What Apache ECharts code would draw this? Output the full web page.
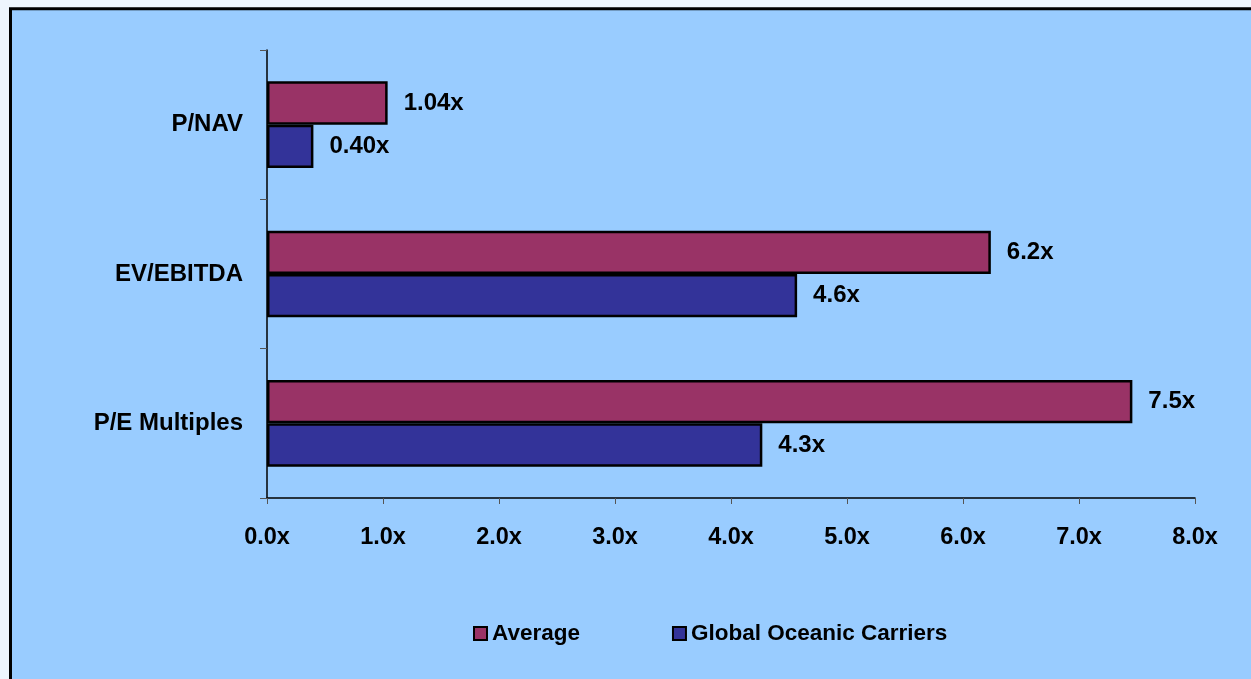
<!DOCTYPE html>
<html>
<head>
<meta charset="utf-8">
<script src="https://cdn.jsdelivr.net/npm/echarts@6/dist/echarts.min.js"></script>
<style>
html,body{margin:0;padding:0;background:#EEF5FD;}
#chart{width:1251px;height:679px;}
</style>
</head>
<body>
<div id="chart"></div>
<script>
const categories = ["P/NAV", "EV/EBITDA", "P/E Multiples"];
const averageValues = [1.04, 6.24, 7.46];
const carrierValues = [0.40, 4.57, 4.27];
const seriesNames = ["Average", "Global Oceanic Carriers"];
const labelDecimals = [2, 1, 1];
const xTicks = [0, 1, 2, 3, 4, 5, 6, 7, 8];

const chart = echarts.init(document.getElementById('chart'), null, {renderer: 'canvas'});
const font = 'Liberation Sans, Arial, sans-serif';
const labelCfg = {
  show: true, position: 'right', distance: 16,
  color: '#000', fontFamily: font, fontWeight: 'bold', fontSize: 24,
  formatter: p => p.value.toFixed(labelDecimals[p.dataIndex]) + 'x'
};
chart.setOption({
  animation: false,
  backgroundColor: '#EEF5FD',
  graphic: [{
    type: 'rect', z: -10, silent: true,
    shape: {x: 10.5, y: 8.8, width: 1400, height: 800},
    style: {fill: '#99CCFF', stroke: '#000', lineWidth: 3}
  }],
  grid: {left: 267, top: 50, width: 928, height: 448, containLabel: false},
  legend: {
    left: 468, top: 617, itemWidth: 13, itemHeight: 13, itemGap: 92, icon: 'rect',
    data: seriesNames,
    textStyle: {color: '#000', fontFamily: font, fontWeight: 'bold', fontSize: 22.5},
    itemStyle: {borderColor: '#000', borderWidth: 2}
  },
  xAxis: {
    type: 'value', min: xTicks[0], max: xTicks[xTicks.length - 1], interval: 1,
    axisLine: {show: true, lineStyle: {color: '#000', width: 1.5}},
    axisTick: {show: true, length: 6, lineStyle: {color: '#555'}},
    splitLine: {show: false},
    axisLabel: {
      margin: 28, color: '#000', fontFamily: font, fontWeight: 'bold', fontSize: 23.5,
      formatter: v => v.toFixed(1) + 'x'
    }
  },
  yAxis: {
    type: 'category', data: categories, inverse: true,
    axisLine: {show: true, lineStyle: {color: '#000', width: 1.5}},
    axisTick: {show: true, length: 7, lineStyle: {color: '#555'}},
    axisLabel: {margin: 24, color: '#000', fontFamily: font, fontWeight: 'bold', fontSize: 24}
  },
  series: [
    {
      name: seriesNames[0], type: 'bar', data: averageValues,
      barGap: '0%', barCategoryGap: '42%',
      itemStyle: {color: '#993366', borderColor: '#000', borderWidth: 2.5},
      label: labelCfg
    },
    {
      name: seriesNames[1], type: 'bar', data: carrierValues,
      barGap: '0%', barCategoryGap: '42%',
      itemStyle: {color: '#333399', borderColor: '#000', borderWidth: 2.5},
      label: labelCfg
    }
  ]
});
</script>
</body>
</html>
